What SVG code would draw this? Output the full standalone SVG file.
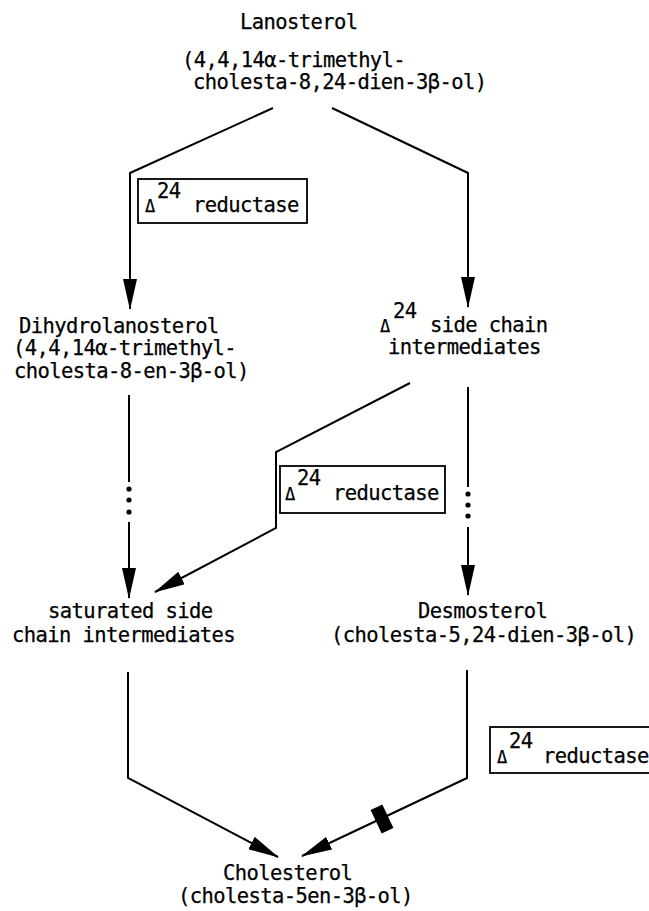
<svg xmlns="http://www.w3.org/2000/svg" width="649" height="911" viewBox="0 0 649 911">
  <style>
    text { font-family: "DejaVu Sans Mono", "Liberation Mono", monospace; font-size: 20.5px; letter-spacing: -0.6px; fill: #000; stroke: #000; stroke-width: 0.25; }
    .lbl { text-anchor: start; }
    .delta { font-size: 17px; letter-spacing: 0; }
    .line { fill: none; stroke: #000; stroke-width: 2; }
    .arrow { fill: none; stroke: #000; stroke-width: 2; marker-end: url(#head); }
    .box { fill: #fff; stroke: #000; stroke-width: 1.8; }
    .dot { fill: #000; }
  </style>
  <defs>
    <marker id="head" viewBox="0 0 31 14" markerWidth="31" markerHeight="14" refX="30" refY="7" orient="auto" markerUnits="userSpaceOnUse">
      <path d="M0,0 L31,7 L0,14 z" fill="#000"/>
    </marker>
  </defs>

  <rect width="649" height="911" fill="#fff"/>

  <!-- connectors -->
  <g id="connectors">
    <!-- lanosterol splits into two branches -->
    <polyline class="arrow" points="273,108 130,173 130,309"/>
    <polyline class="arrow" points="332,108 468,173 468,307"/>

    <!-- left column: dihydrolanosterol to saturated intermediates (multi-step) -->
    <line class="line" x1="129" y1="395" x2="129" y2="482"/>
    <circle class="dot" cx="129" cy="489" r="2.6"/>
    <circle class="dot" cx="129" cy="500" r="2.6"/>
    <circle class="dot" cx="129" cy="512" r="2.6"/>
    <line class="arrow" x1="129" y1="522" x2="129" y2="598"/>

    <!-- right column: delta-24 intermediates to desmosterol (multi-step) -->
    <line class="line" x1="468" y1="387" x2="468" y2="487"/>
    <circle class="dot" cx="468" cy="494" r="2.6"/>
    <circle class="dot" cx="468" cy="505" r="2.6"/>
    <circle class="dot" cx="468" cy="516" r="2.6"/>
    <line class="arrow" x1="468" y1="527" x2="468" y2="595"/>

    <!-- crossover via reductase -->
    <polyline class="arrow" points="410,383 276,452 276,528 155,592"/>

    <!-- both routes converge on cholesterol -->
    <polyline class="arrow" points="128,672 128,778 278,857"/>
    <polyline class="arrow" points="467,670 467,778 302,856"/>

    <!-- block mark on the desmosterol route -->
    <rect x="-6.5" y="-13" width="13" height="26" fill="#000" transform="translate(382,819) rotate(-25.3)"/>
  </g>

  <!-- nodes -->
  <g id="lanosterol">
    <text class="lbl" x="240" y="29">Lanosterol</text>
    <text class="lbl" x="182" y="67">(4,4,14α-trimethyl-</text>
    <text class="lbl" x="193" y="89">cholesta-8,24-dien-3β-ol)</text>
  </g>

  <g id="reductase-1">
    <rect class="box" x="138" y="179" width="169" height="44"/>
    <text class="lbl delta" x="145" y="212">Δ</text>
    <text class="lbl" x="157" y="198">24</text>
    <text class="lbl" x="193" y="212">reductase</text>
  </g>

  <g id="dihydrolanosterol">
    <text class="lbl" x="19" y="333">Dihydrolanosterol</text>
    <text class="lbl" x="13" y="355">(4,4,14α-trimethyl-</text>
    <text class="lbl" x="14" y="378">cholesta-8-en-3β-ol)</text>
  </g>

  <g id="delta24-intermediates">
    <text class="lbl delta" x="380" y="332">Δ</text>
    <text class="lbl" x="393" y="318">24</text>
    <text class="lbl" x="430" y="332">side chain</text>
    <text class="lbl" x="388" y="354">intermediates</text>
  </g>

  <g id="reductase-2">
    <rect class="box" x="280" y="466" width="165" height="47"/>
    <text class="lbl delta" x="285" y="500">Δ</text>
    <text class="lbl" x="297" y="485">24</text>
    <text class="lbl" x="333" y="500">reductase</text>
  </g>

  <g id="saturated-intermediates">
    <text class="lbl" x="48" y="618">saturated side</text>
    <text class="lbl" x="12" y="642">chain intermediates</text>
  </g>

  <g id="desmosterol">
    <text class="lbl" x="418" y="618">Desmosterol</text>
    <text class="lbl" x="331" y="642">(cholesta-5,24-dien-3β-ol)</text>
  </g>

  <g id="reductase-3">
    <rect class="box" x="490" y="727" width="170" height="46"/>
    <text class="lbl delta" x="497" y="763">Δ</text>
    <text class="lbl" x="509" y="748">24</text>
    <text class="lbl" x="543" y="763">reductase</text>
  </g>

  <g id="cholesterol">
    <text class="lbl" x="223" y="880">Cholesterol</text>
    <text class="lbl" x="178" y="903">(cholesta-5en-3β-ol)</text>
  </g>
</svg>
